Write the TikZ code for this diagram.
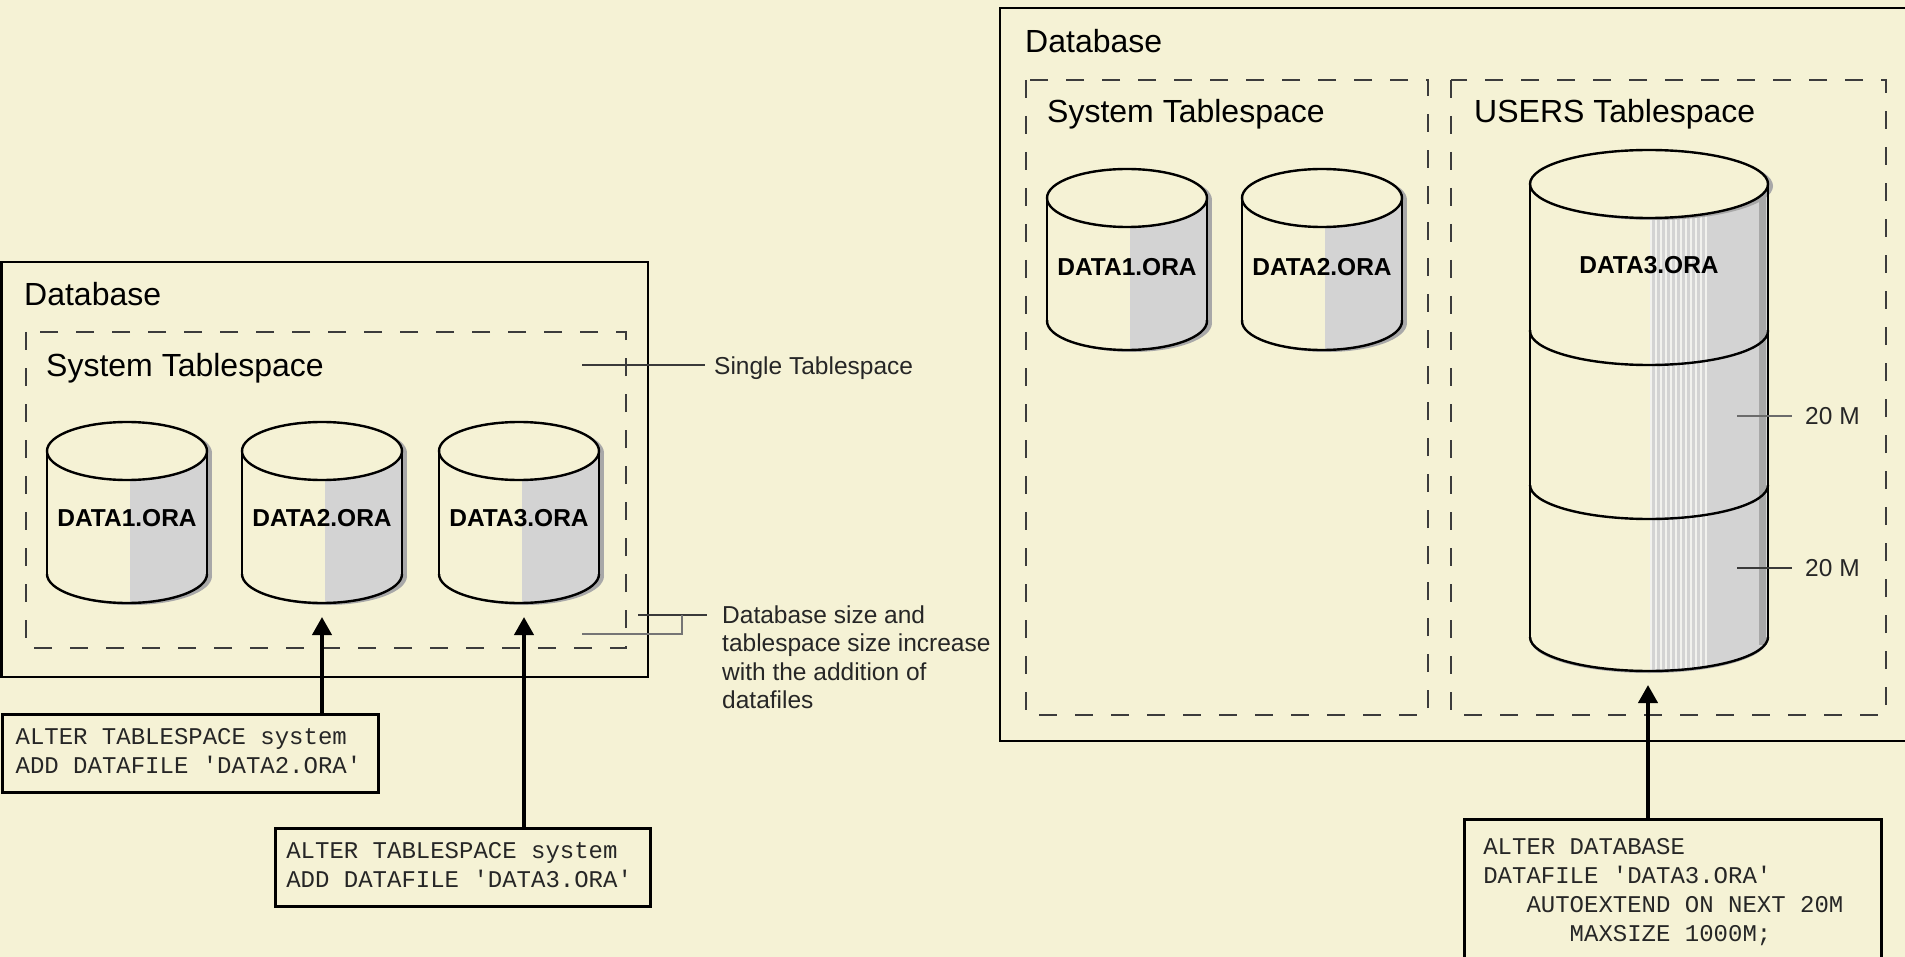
\documentclass[tikz,border=0pt]{standalone}
\usepackage{fontspec}
\setmainfont{Liberation Sans}
\setmonofont{Liberation Mono}
\usetikzlibrary{arrows.meta}

\definecolor{paper}{HTML}{F5F2D5}
\definecolor{drumgray}{HTML}{D3D3D3}
\definecolor{drumshadow}{HTML}{A8A8A8}
\definecolor{dashink}{HTML}{3C3C3C}
\definecolor{leadink}{HTML}{3A3A3A}
\definecolor{stripeink}{HTML}{F2F2EE}

% monospaced command text; word spaces kept at the full character pitch
\newcommand{\cmdfont}{\ttfamily\fontsize{24}{29}\selectfont}
\newcommand{\fullspaces}{\spaceskip=14.4pt\relax\xspaceskip=14.4pt\relax}

% body of a datafile drum: shadow, cream body, grey right half
% #1 cx, #2 top-centre y, #3 bottom-centre y, #4 rx, #5 ry, #6 shadow offset
\newcommand{\drumshape}[6]{%
  \pgfmathsetmacro\drumL{#1-#4}%
  \pgfmathsetmacro\drumR{#1+#4}%
  \fill[drumshadow] (\drumL+#6,#2+2) rectangle (\drumR+#6,#3+2);
  \fill[drumshadow] (#1+#6,#3+2) ellipse[x radius=#4pt, y radius=#5pt];
  \fill[drumshadow] (#1+#6,#2+2) ellipse[x radius=#4pt, y radius=#5pt];
  \fill[paper] (\drumL,#2) rectangle (\drumR,#3);
  \fill[paper] (#1,#3) ellipse[x radius=#4pt, y radius=#5pt];
  \begin{scope}
    \clip (#1+3,#2-#5-5) rectangle (\drumR+1,#3+#5+5);
    \fill[drumgray] (\drumL,#2) rectangle (\drumR,#3);
    \fill[drumgray] (#1,#3) ellipse[x radius=#4pt, y radius=#5pt];
  \end{scope}
}
% outline of a drum: sides, front of the base, and the lid
\newcommand{\drumoutline}[5]{%
  \pgfmathsetmacro\drumL{#1-#4}%
  \pgfmathsetmacro\drumR{#1+#4}%
  \draw[drumline] (\drumL,#2) -- (\drumL,#3);
  \draw[drumline] (\drumR,#2) -- (\drumR,#3);
  \begin{scope}
    \clip (\drumL-5,#3) rectangle (\drumR+5,#3+#5+5);
    \draw[drumline] (#1,#3) ellipse[x radius=#4pt, y radius=#5pt];
  \end{scope}
  \filldraw[drumline, fill=paper] (#1,#2) ellipse[x radius=#4pt, y radius=#5pt];
}
% front edge of an extent boundary inside a drum
\newcommand{\drumrim}[4]{%
  \begin{scope}
    \clip (#1-#3-5,#2) rectangle (#1+#3+5,#2+#4+5);
    \draw[drumline] (#1,#2) ellipse[x radius=#3pt, y radius=#4pt];
  \end{scope}
}

\begin{document}
\begin{tikzpicture}[x=1pt, y=-1pt,
  dbframe/.style={draw=black, line width=2.6pt},
  tsframe/.style={draw=dashink, line width=2pt, dash pattern=on 18pt off 18pt},
  drumline/.style={draw=black, line width=2.4pt, line join=round},
  drumlabel/.style={font=\bfseries\fontsize{24.5}{28}\selectfont, inner sep=0pt},
  heading/.style={font=\fontsize{32}{38}\selectfont, inner sep=0pt, anchor=base west},
  note/.style={font=\fontsize{24.5}{28.5}\selectfont, inner sep=0pt, text=black!85},
  cmd/.style={draw=black, line width=2.6pt, font=\cmdfont, text=black!85,
    align=left, inner xsep=13pt, inner ysep=10pt, anchor=north west},
  lead/.style={draw=leadink, line width=1.3pt},
  feed/.style={draw=black, line width=4pt, -{Triangle[length=18pt, width=19pt]}},
  stripe/.style={draw=stripeink, line width=1.2pt}]

\useasboundingbox (0,0) rectangle (1905,957);
\fill[paper] (0,0) rectangle (1905,957);
\clip (0,0) rectangle (1905,957);

% ---------- left: single tablespace database ----------
\draw[dbframe] (1.3,262) rectangle (648,677);
\draw[tsframe] (26,332) rectangle (626,648);
\node[heading] (dbL) at (24,306) {Database};
\node[heading] (sysL) at (46,376) {System Tablespace};

\drumshape{127}{451}{574}{80}{29}{5}
\drumoutline{127}{451}{574}{80}{29}
\drumshape{322}{451}{574}{80}{29}{5}
\drumoutline{322}{451}{574}{80}{29}
\drumshape{519}{451}{574}{80}{29}{5}
\drumoutline{519}{451}{574}{80}{29}
\node[drumlabel] (d1L) at (127,518) {DATA1.ORA};
\node[drumlabel] (d2L) at (322,518) {DATA2.ORA};
\node[drumlabel] (d3L) at (519,518) {DATA3.ORA};

\node[cmd, text width=350pt] (cmd1) at (1.3,713)
  {\fullspaces\strut ALTER TABLESPACE system\\ADD DATAFILE 'DATA2.ORA'\strut};
\node[cmd, text width=353pt, inner xsep=11pt] (cmd2) at (274,827)
  {\fullspaces\strut ALTER TABLESPACE system\\ADD DATAFILE 'DATA3.ORA'\strut};

\coordinate (tip2) at (322,617);
\coordinate (tip3) at (524,617);
\draw[feed] (cmd1.north -| tip2) -- (tip2);
\draw[feed] (cmd2.north -| tip3) -- (tip3);

% callouts
\node[note, anchor=base west] (single) at (714,374) {Single Tablespace};
\coordinate (s1) at (582,365);
\draw[lead, shorten >=9pt] (s1) -- (s1 -| single.west);

\node[note, align=left, anchor=north west] (grow) at (722,603)
  {\strut Database size and\\tablespace size increase\\with the addition of\\datafiles};
\coordinate (g1) at (638,615);
\coordinate (g2) at (582,634);
\coordinate (g3) at (682,634);
\draw[lead, shorten >=15pt] (g1) -- (g1 -| grow.west);
\draw[lead, draw=leadink!70] (g2) -- (g3) -- (g3 |- g1);

% ---------- right: autoextending datafile ----------
\draw[dbframe] (1915,8) -- (1000,8) -- (1000,741) -- (1915,741);
\draw[tsframe] (1026,80) rectangle (1428,715);
\draw[tsframe] (1451,80) rectangle (1886,715);
\node[heading] (dbR) at (1025,53) {Database};
\node[heading] (sysR) at (1047,123) {System Tablespace};
\node[heading] (usrR) at (1474,123) {USERS Tablespace};

\drumshape{1127}{198}{321}{80}{29}{5}
\drumoutline{1127}{198}{321}{80}{29}
\drumshape{1322}{198}{321}{80}{29}{5}
\drumoutline{1322}{198}{321}{80}{29}
\node[drumlabel] (d1R) at (1127,267) {DATA1.ORA};
\node[drumlabel] (d2R) at (1322,267) {DATA2.ORA};

% the growing DATA3.ORA drum
\drumshape{1649}{184}{637}{119}{34}{0}
\foreach \i in {0,...,11}{
  \pgfmathsetmacro\sx{1649+2+5*\i}
  \pgfmathsetmacro\se{637+34*sqrt(1-((\sx-1649)/119)^2)}
  \draw[stripe] (\sx,184) -- (\sx,\se);
}
\fill[drumshadow] (1759,184) rectangle (1766,645);
\fill[drumshadow] (1654,186) ellipse[x radius=119pt, y radius=34pt];
\drumoutline{1649}{184}{637}{119}{34}
\drumrim{1649}{331}{119}{34}
\drumrim{1649}{485}{119}{34}
\node[drumlabel] (d3R) at (1649,265) {DATA3.ORA};

\node[note, anchor=base west] (ext1) at (1805,424) {20 M};
\node[note, anchor=base west] (ext2) at (1805,576) {20 M};
\coordinate (e1) at (1737,416);
\coordinate (e2) at (1737,568);
\draw[lead, draw=leadink!75] (e1) -- ([xshift=-13pt]e1 -| ext1.west);
\draw[lead] (e2) -- ([xshift=-13pt]e2 -| ext2.west);

\node[cmd, text width=379pt, inner xsep=19pt, inner ysep=14.5pt] (cmd3) at (1463,818)
  {\fullspaces\strut ALTER DATABASE\\DATAFILE 'DATA3.ORA'\\\phantom{XXX}AUTOEXTEND ON NEXT 20M\\
   \phantom{XXXXXX}MAXSIZE 1000M;\\\strut\\\strut};
\coordinate (tipR) at (1648,685);
\draw[feed] (cmd3.north -| tipR) -- (tipR);

\end{tikzpicture}
\end{document}
